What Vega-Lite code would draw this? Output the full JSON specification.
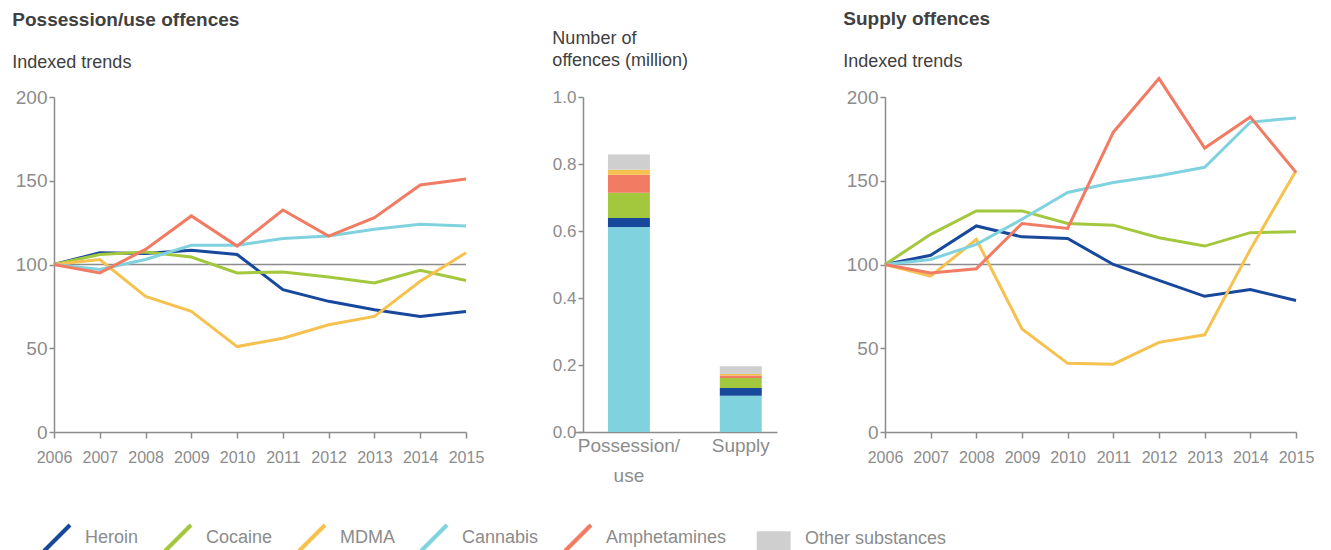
{
  "$schema": "https://vega.github.io/schema/vega-lite/v6.json",
  "background": "white",
  "padding": {"left": 12, "top": 9, "right": 10, "bottom": 0},
  "bounds": "flush",
  "spacing": 108,
  "config": {
    "font": "Liberation Sans",
    "view": {"stroke": null},
    "axis": {
      "domainColor": "#8c8c8c",
      "tickColor": "#8c8c8c",
      "labelColor": "#8c8c8c",
      "labelFont": "Liberation Sans",
      "grid": false,
      "domainWidth": 1.5,
      "tickWidth": 1.5
    },
    "title": {"anchor": "start", "color": "#404040", "font": "Liberation Sans", "subtitleFont": "Liberation Sans"}
  },
  "datasets": {
    "possession": [
      {"year": 2006, "drug": "Heroin", "value": 100},
      {"year": 2007, "drug": "Heroin", "value": 107},
      {"year": 2008, "drug": "Heroin", "value": 106.5},
      {"year": 2009, "drug": "Heroin", "value": 108.5},
      {"year": 2010, "drug": "Heroin", "value": 106},
      {"year": 2011, "drug": "Heroin", "value": 85},
      {"year": 2012, "drug": "Heroin", "value": 78},
      {"year": 2013, "drug": "Heroin", "value": 73},
      {"year": 2014, "drug": "Heroin", "value": 69},
      {"year": 2015, "drug": "Heroin", "value": 72},
      {"year": 2006, "drug": "Cocaine", "value": 100},
      {"year": 2007, "drug": "Cocaine", "value": 106},
      {"year": 2008, "drug": "Cocaine", "value": 107.5},
      {"year": 2009, "drug": "Cocaine", "value": 104.5},
      {"year": 2010, "drug": "Cocaine", "value": 95},
      {"year": 2011, "drug": "Cocaine", "value": 95.5},
      {"year": 2012, "drug": "Cocaine", "value": 92.5},
      {"year": 2013, "drug": "Cocaine", "value": 89},
      {"year": 2014, "drug": "Cocaine", "value": 96.5},
      {"year": 2015, "drug": "Cocaine", "value": 90.5},
      {"year": 2006, "drug": "MDMA", "value": 100},
      {"year": 2007, "drug": "MDMA", "value": 103},
      {"year": 2008, "drug": "MDMA", "value": 81},
      {"year": 2009, "drug": "MDMA", "value": 72},
      {"year": 2010, "drug": "MDMA", "value": 51},
      {"year": 2011, "drug": "MDMA", "value": 56},
      {"year": 2012, "drug": "MDMA", "value": 64},
      {"year": 2013, "drug": "MDMA", "value": 69},
      {"year": 2014, "drug": "MDMA", "value": 90},
      {"year": 2015, "drug": "MDMA", "value": 107},
      {"year": 2006, "drug": "Cannabis", "value": 100},
      {"year": 2007, "drug": "Cannabis", "value": 97},
      {"year": 2008, "drug": "Cannabis", "value": 103},
      {"year": 2009, "drug": "Cannabis", "value": 111.5},
      {"year": 2010, "drug": "Cannabis", "value": 111.5},
      {"year": 2011, "drug": "Cannabis", "value": 115.5},
      {"year": 2012, "drug": "Cannabis", "value": 117},
      {"year": 2013, "drug": "Cannabis", "value": 121},
      {"year": 2014, "drug": "Cannabis", "value": 124},
      {"year": 2015, "drug": "Cannabis", "value": 123},
      {"year": 2006, "drug": "Amphetamines", "value": 100},
      {"year": 2007, "drug": "Amphetamines", "value": 95},
      {"year": 2008, "drug": "Amphetamines", "value": 109},
      {"year": 2009, "drug": "Amphetamines", "value": 129},
      {"year": 2010, "drug": "Amphetamines", "value": 111},
      {"year": 2011, "drug": "Amphetamines", "value": 132.5},
      {"year": 2012, "drug": "Amphetamines", "value": 117},
      {"year": 2013, "drug": "Amphetamines", "value": 128},
      {"year": 2014, "drug": "Amphetamines", "value": 147.5},
      {"year": 2015, "drug": "Amphetamines", "value": 151}
    ],
    "supply": [
      {"year": 2006, "drug": "Heroin", "value": 100},
      {"year": 2007, "drug": "Heroin", "value": 105.5},
      {"year": 2008, "drug": "Heroin", "value": 123},
      {"year": 2009, "drug": "Heroin", "value": 116.5},
      {"year": 2010, "drug": "Heroin", "value": 115.5},
      {"year": 2011, "drug": "Heroin", "value": 100},
      {"year": 2012, "drug": "Heroin", "value": 90.5},
      {"year": 2013, "drug": "Heroin", "value": 81},
      {"year": 2014, "drug": "Heroin", "value": 85},
      {"year": 2015, "drug": "Heroin", "value": 78.5},
      {"year": 2006, "drug": "Cocaine", "value": 100},
      {"year": 2007, "drug": "Cocaine", "value": 118},
      {"year": 2008, "drug": "Cocaine", "value": 132},
      {"year": 2009, "drug": "Cocaine", "value": 132},
      {"year": 2010, "drug": "Cocaine", "value": 124.5},
      {"year": 2011, "drug": "Cocaine", "value": 123.5},
      {"year": 2012, "drug": "Cocaine", "value": 116},
      {"year": 2013, "drug": "Cocaine", "value": 111},
      {"year": 2014, "drug": "Cocaine", "value": 119},
      {"year": 2015, "drug": "Cocaine", "value": 119.5},
      {"year": 2006, "drug": "MDMA", "value": 100},
      {"year": 2007, "drug": "MDMA", "value": 93},
      {"year": 2008, "drug": "MDMA", "value": 115},
      {"year": 2009, "drug": "MDMA", "value": 61.5},
      {"year": 2010, "drug": "MDMA", "value": 41},
      {"year": 2011, "drug": "MDMA", "value": 40.5},
      {"year": 2012, "drug": "MDMA", "value": 53.5},
      {"year": 2013, "drug": "MDMA", "value": 58},
      {"year": 2014, "drug": "MDMA", "value": 109},
      {"year": 2015, "drug": "MDMA", "value": 156},
      {"year": 2006, "drug": "Cannabis", "value": 100},
      {"year": 2007, "drug": "Cannabis", "value": 103},
      {"year": 2008, "drug": "Cannabis", "value": 112},
      {"year": 2009, "drug": "Cannabis", "value": 127},
      {"year": 2010, "drug": "Cannabis", "value": 143},
      {"year": 2011, "drug": "Cannabis", "value": 149},
      {"year": 2012, "drug": "Cannabis", "value": 153},
      {"year": 2013, "drug": "Cannabis", "value": 158},
      {"year": 2014, "drug": "Cannabis", "value": 185},
      {"year": 2015, "drug": "Cannabis", "value": 187.5},
      {"year": 2006, "drug": "Amphetamines", "value": 100},
      {"year": 2007, "drug": "Amphetamines", "value": 95},
      {"year": 2008, "drug": "Amphetamines", "value": 97.5},
      {"year": 2009, "drug": "Amphetamines", "value": 124.5},
      {"year": 2010, "drug": "Amphetamines", "value": 121.5},
      {"year": 2011, "drug": "Amphetamines", "value": 179},
      {"year": 2012, "drug": "Amphetamines", "value": 211},
      {"year": 2013, "drug": "Amphetamines", "value": 169.5},
      {"year": 2014, "drug": "Amphetamines", "value": 188},
      {"year": 2015, "drug": "Amphetamines", "value": 155}
    ],
    "bars": [
      {"type": "Possession/use", "drug": "Cannabis", "value": 0.612},
      {"type": "Possession/use", "drug": "Heroin", "value": 0.027},
      {"type": "Possession/use", "drug": "Cocaine", "value": 0.075},
      {"type": "Possession/use", "drug": "Amphetamines", "value": 0.054},
      {"type": "Possession/use", "drug": "MDMA", "value": 0.015},
      {"type": "Possession/use", "drug": "Other substances", "value": 0.045},
      {"type": "Supply", "drug": "Cannabis", "value": 0.108},
      {"type": "Supply", "drug": "Heroin", "value": 0.023},
      {"type": "Supply", "drug": "Cocaine", "value": 0.03},
      {"type": "Supply", "drug": "Amphetamines", "value": 0.008},
      {"type": "Supply", "drug": "MDMA", "value": 0.004},
      {"type": "Supply", "drug": "Other substances", "value": 0.023}
    ]
  },
  "hconcat": [
    {
      "width": 412,
      "height": 335,
      "title": {"text": "Possession/use offences", "subtitle": "Indexed trends", "fontSize": 19, "fontWeight": "bold", "subtitleFontSize": 18, "subtitleColor": "#404040", "subtitlePadding": 24, "offset": 16, "dx": -3},
      "layer": [
        {
          "data": {"values": [{"start": 2006, "end": 2015, "index": 100}]},
          "mark": {"type": "rule", "color": "#8c8c8c", "strokeWidth": 1.5},
          "encoding": {
            "x": {"field": "start", "type": "quantitative"},
            "x2": {"field": "end"},
            "y": {"field": "index", "type": "quantitative"}
          }
        },
        {
          "data": {"name": "possession"},
          "mark": {"type": "line", "strokeWidth": 3},
          "encoding": {
            "x": {"field": "year", "type": "quantitative", "scale": {"domain": [2006, 2015], "nice": false, "zero": false},
                  "axis": {"values": [2006, 2007, 2008, 2009, 2010, 2011, 2012, 2013, 2014, 2015], "format": "d", "title": null, "labelFontSize": 16, "tickSize": 6, "labelPadding": 11, "labelFlush": false}},
            "y": {"field": "value", "type": "quantitative", "scale": {"domain": [0, 200], "nice": false},
                  "axis": {"values": [0, 50, 100, 150, 200], "title": null, "labelFontSize": 19, "tickSize": 5, "labelPadding": 2}},
            "color": {
              "field": "drug", "type": "nominal",
              "scale": {"domain": ["Heroin", "Cocaine", "MDMA", "Cannabis", "Amphetamines", "Other substances"],
                        "range": ["#17489c", "#a3c83d", "#f6c24f", "#80d2df", "#f17b63", "#cfcfcf"]},
              "legend": {
                "orient": "none", "legendX": -12, "legendY": 426, "direction": "horizontal", "title": null,
                "symbolSize": 676, "symbolStrokeWidth": 4, "labelFontSize": 18, "labelColor": "#8c8c8c",
                "labelOffset": 13, "columnPadding": 18, "labelFont": "Liberation Sans",
                "encode": {
                  "symbols": {
                    "update": {
                      "shape": {"signal": "datum.value === 'Other substances' ? 'M-0.1,-0.58H2.2V0.58H-0.1Z' : 'M-1,1L1,-1'"},
                      "size": {"value": 676},
                      "fill": {"signal": "datum.value === 'Other substances' ? '#cfcfcf' : 'transparent'"},
                      "stroke": {"signal": "datum.value === 'Other substances' ? 'transparent' : scale('color', datum.value)"},
                      "strokeWidth": {"value": 4},
                      "opacity": {"value": 1}
                    }
                  },
                  "labels": {
                    "update": {
                      "dx": {"signal": "datum.value === 'Other substances' ? 17 : 0"},
                      "dy": {"signal": "datum.value === 'Other substances' ? -2 : 0"}
                    }
                  }
                }
              }
            }
          }
        }
      ]
    },
    {
      "width": 203,
      "height": 335,
      "title": {"text": ["Number of", "offences (million)"], "fontSize": 18, "fontWeight": "normal", "lineHeight": 22, "offset": 18},
      "data": {"name": "bars"},
      "transform": [
        {"calculate": "indexof(['Cannabis', 'Heroin', 'Cocaine', 'Amphetamines', 'MDMA', 'Other substances'], datum.drug)", "as": "stack_rank"}
      ],
      "mark": {"type": "bar"},
      "encoding": {
        "x": {"field": "type", "type": "nominal", "sort": ["Possession/use", "Supply"],
              "scale": {"paddingInner": 0.625, "paddingOuter": 0.22, "align": 0.69},
              "axis": {"title": null, "labelAngle": 0, "ticks": false, "labelFontSize": 19, "labelPadding": 4, "labelLineHeight": 30,
                       "labelExpr": "datum.value == 'Possession/use' ? ['Possession/', 'use'] : datum.label"}},
        "y": {"field": "value", "type": "quantitative", "stack": "zero", "scale": {"domain": [0, 1], "nice": false},
              "axis": {"values": [0, 0.2, 0.4, 0.6, 0.8, 1], "format": ".1f", "title": null, "offset": -9, "labelFontSize": 17, "tickSize": 5, "labelPadding": 2}},
        "order": {"field": "stack_rank", "type": "quantitative", "sort": "ascending"},
        "color": {
          "field": "drug", "type": "nominal",
          "scale": {"domain": ["Heroin", "Cocaine", "MDMA", "Cannabis", "Amphetamines", "Other substances"],
                    "range": ["#17489c", "#a3c83d", "#f6c24f", "#80d2df", "#f17b63", "#cfcfcf"]}
        }
      }
    },
    {
      "width": 411,
      "height": 335,
      "title": {"text": "Supply offences", "subtitle": "Indexed trends", "fontSize": 19, "fontWeight": "bold", "subtitleFontSize": 18, "subtitleColor": "#404040", "subtitlePadding": 24, "offset": 2, "dx": -3},
      "layer": [
        {
          "data": {"values": [{"start": 2006, "end": 2014, "index": 100}]},
          "mark": {"type": "rule", "color": "#8c8c8c", "strokeWidth": 1.5},
          "encoding": {
            "x": {"field": "start", "type": "quantitative"},
            "x2": {"field": "end"},
            "y": {"field": "index", "type": "quantitative"}
          }
        },
        {
          "data": {"name": "supply"},
          "mark": {"type": "line", "strokeWidth": 3},
          "encoding": {
            "x": {"field": "year", "type": "quantitative", "scale": {"domain": [2006, 2015], "nice": false, "zero": false},
                  "axis": {"values": [2006, 2007, 2008, 2009, 2010, 2011, 2012, 2013, 2014, 2015], "format": "d", "title": null, "labelFontSize": 16, "tickSize": 6, "labelPadding": 11, "labelFlush": false}},
            "y": {"field": "value", "type": "quantitative", "scale": {"domain": [0, 200], "nice": false},
                  "axis": {"values": [0, 50, 100, 150, 200], "title": null, "labelFontSize": 19, "tickSize": 5, "labelPadding": 2}},
            "color": {
              "field": "drug", "type": "nominal",
              "scale": {"domain": ["Heroin", "Cocaine", "MDMA", "Cannabis", "Amphetamines", "Other substances"],
                        "range": ["#17489c", "#a3c83d", "#f6c24f", "#80d2df", "#f17b63", "#cfcfcf"]}
            }
          }
        }
      ]
    }
  ]
}
